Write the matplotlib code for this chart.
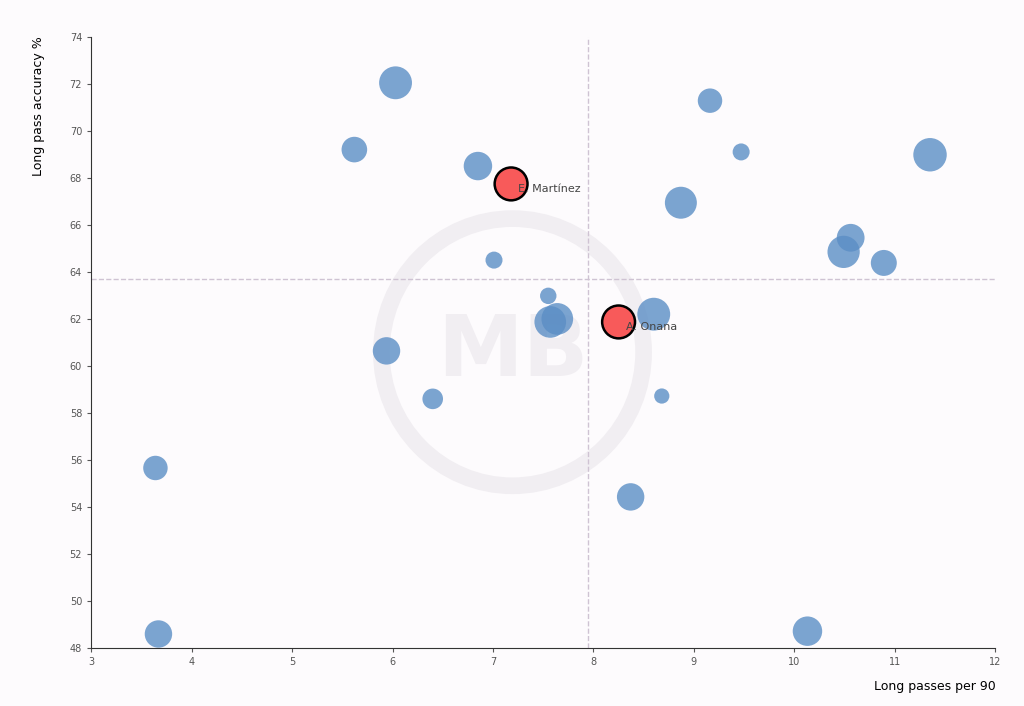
import matplotlib.pyplot as plt
from matplotlib.patches import Ellipse

# data
players_x = [6.03, 5.62, 6.85, 9.16, 9.47, 11.35, 8.87, 10.56, 10.49, 10.89, 7.01,
             7.55, 7.57, 7.64, 8.60, 5.94, 6.40, 8.68, 3.64, 8.37, 3.67, 10.13]
players_y = [72.04, 69.2, 68.5, 71.28, 69.1, 68.98, 66.94, 65.45, 64.85, 64.38, 64.5,
             62.98, 61.87, 62.0, 62.2, 60.64, 58.6, 58.72, 55.66, 54.43, 48.6, 48.72]
players_s = [560, 340, 420, 310, 150, 580, 530, 400, 540, 350, 150,
             140, 520, 520, 560, 390, 220, 120, 310, 390, 390, 450]

hl_names = ["E. Martínez", "A. Onana"]
hl_x = [7.18, 8.25]
hl_y = [67.74, 61.87]
hl_s = [560, 560]

mean_x = 7.95
mean_y = 63.7

bg = "#fdfbfd"
fig, ax = plt.subplots(figsize=(10.24, 7.06), dpi=100)
fig.patch.set_facecolor(bg)
ax.set_facecolor(bg)
fig.subplots_adjust(left=0.089, right=0.972, top=0.948, bottom=0.082)

# faint watermark behind the points
ax.add_patch(Ellipse((0.466, 0.484), 0.29, 0.437, transform=ax.transAxes,
                     fill=False, edgecolor="#f1eef2", linewidth=12, zorder=0))
ax.text(0.466, 0.484, "MB", transform=ax.transAxes, ha="center", va="center",
        fontsize=62, fontweight="bold", color="#f1eef2", zorder=0)

ax.axvline(mean_x, color="#cfc3d3", linestyle="--", linewidth=1, zorder=1)
ax.axhline(mean_y, color="#cfc3d3", linestyle="--", linewidth=1, zorder=1)

ax.scatter(players_x, players_y, s=players_s, color="#5b8ec5", alpha=0.8,
           edgecolors="none", zorder=2)
ax.scatter(hl_x, hl_y, s=hl_s, color="#f85a5a", edgecolors="black",
           linewidths=1.8, zorder=3)
for n, x, y in zip(hl_names, hl_x, hl_y):
    ax.text(x + 0.07, y - 0.2, n, fontsize=8, color="#444444", va="center", zorder=4)

ax.set_xlim(3, 12)
ax.set_ylim(48, 74)
ax.set_xticks(range(3, 13))
ax.set_yticks(range(48, 75, 2))
ax.tick_params(labelsize=7, colors="#555555", length=3)
for s in ["top", "right"]:
    ax.spines[s].set_visible(False)
for s in ["left", "bottom"]:
    ax.spines[s].set_color("#333333")
ax.set_xlabel("Long passes per 90", fontsize=9, loc="right", labelpad=9)
ax.set_ylabel("Long pass accuracy %", fontsize=9, loc="top", labelpad=18)

fig.savefig("out.png", dpi=100, facecolor=bg)
